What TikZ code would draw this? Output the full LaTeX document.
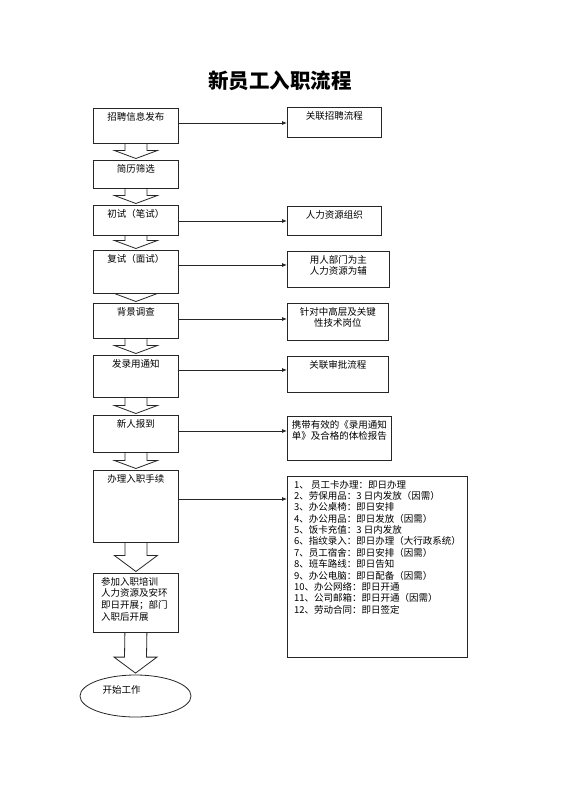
\documentclass[tikz,border=0pt]{standalone}
\usepackage{fontspec}
\setmainfont{Noto Sans CJK SC}
\usetikzlibrary{arrows.meta,calc,shapes.geometric}
\tikzset{
  box/.style={draw=black!85, line width=0.8pt, fill=white, inner sep=0pt, anchor=north west},
  txt/.style={font=\fontsize{9.5}{11.6}\selectfont, inner sep=0pt, anchor=north, align=center},
  ltxt/.style={font=\fontsize{9.5}{11.6}\selectfont, inner sep=0pt, anchor=north west, align=left},
  conn/.style={draw=black!85, line width=0.8pt, -{Latex[length=5pt,width=4pt]}},
  blkline/.style={draw=black!85, line width=0.8pt},
}
\newcommand\blkarr[3]{%
  \draw[blkline] ($(#1.south)+(-11,0)$) -- ($(#2.north)+(-11,-1.5-#3)$)
    -- ($(#2.north)+(-21.5,-1.5-#3)$) -- ($(#2.north)+(0,-1.5)$)
    -- ($(#2.north)+(21.5,-1.5-#3)$) -- ($(#2.north)+(11,-1.5-#3)$)
    -- ($(#1.south)+(11,0)$);}
\begin{document}
\begin{tikzpicture}[x=1pt,y=-1pt]
\useasboundingbox[fill=white] (0,0) rectangle (560,792);
\node[font=\fontsize{20.5}{24}\selectfont\bfseries] (title) at (280,81) {新员工入职流程};
% left column
\node[box, minimum width=85, minimum height=35] (b1) at (93,108) {};
\node[box, minimum width=85, minimum height=28] (b2) at (93,160) {};
\node[box, minimum width=85, minimum height=30] (b3) at (93,205) {};
\node[box, minimum width=85, minimum height=43] (b4) at (93,250) {};
\node[box, minimum width=85, minimum height=35] (b5) at (93,303) {};
\node[box, minimum width=85, minimum height=42] (b6) at (93,355) {};
\node[box, minimum width=85, minimum height=37] (b7) at (93,415) {};
\node[box, minimum width=85, minimum height=72] (b8) at (93,470) {};
\node[box, minimum width=85, minimum height=59] (b9) at (93,573) {};
\node[draw=black!85, line width=0.8pt, ellipse, minimum width=111, minimum height=42, inner sep=0pt] (end) at (135.5,696) {};
\node[txt] (b1t) at ($(b1.north)+(0,4)$) {招聘信息发布};
\node[txt] (b2t) at ($(b2.north)+(0,4)$) {简历筛选};
\node[txt] (b3t) at ($(b3.north)+(0,4)$) {初试（笔试）};
\node[txt] (b4t) at ($(b4.north)+(0,4)$) {复试（面试）};
\node[txt] (b5t) at ($(b5.north)+(0,4)$) {背景调查};
\node[txt] (b6t) at ($(b6.north)+(0,4)$) {发录用通知};
\node[txt] (b7t) at ($(b7.north)+(0,4)$) {新人报到};
\node[txt] (b8t) at ($(b8.north)+(0,4)$) {办理入职手续};
\node[ltxt] (b9t) at ($(b9.north west)+(8,4)$) {参加入职培训\\人力资源及安环\\即日开展；部门\\入职后开展};
\node[font=\fontsize{9.5}{11.6}\selectfont, inner sep=0pt] (endt) at ($(end.center)+(-14,-6)$) {开始工作};
% block arrows
\blkarr{b1}{b2}{8}
\blkarr{b2}{b3}{8}
\blkarr{b3}{b4}{8}
\blkarr{b4}{b5}{8}
\blkarr{b5}{b6}{8}
\blkarr{b6}{b7}{8}
\blkarr{b7}{b8}{8}
\blkarr{b8}{b9}{16}
\blkarr{b9}{end}{16}
% right column
\node[box, minimum width=94, minimum height=30] (r1) at (287,107) {};
\node[box, minimum width=94, minimum height=29] (r3) at (287,206) {};
\node[box, minimum width=102, minimum height=36] (r4) at (287,251) {};
\node[box, minimum width=101, minimum height=37] (r5) at (287,303) {};
\node[box, minimum width=101, minimum height=36] (r6) at (287,356) {};
\node[box, minimum width=104, minimum height=44] (r7) at (287,416) {};
\node[box, minimum width=180, minimum height=181] (r8) at (287,476) {};
\node[txt] (r1t) at ($(r1.north)+(0,4)$) {关联招聘流程};
\node[txt] (r3t) at ($(r3.north)+(0,4)$) {人力资源组织};
\node[txt] (r4t) at ($(r4.north)+(0,4)$) {用人部门为主\\人力资源为辅};
\node[txt] (r5t) at ($(r5.north)+(0,4)$) {针对中高层及关键\\性技术岗位};
\node[txt] (r6t) at ($(r6.north)+(0,4)$) {关联审批流程};
\node[txt] (r7t) at ($(r7.north)+(0,4)$) {携带有效的《录用通知\\单》及合格的体检报告};
\node[ltxt, font=\fontsize{9.5}{11.36}\selectfont] (r8t) at ($(r8.north west)+(7,4)$) {1、 员工卡办理：即日办理\\2、劳保用品：3 日内发放（因需）\\3、办公桌椅：即日安排\\4、办公用品：即日发放（因需）\\5、饭卡充值：3 日内发放\\6、指纹录入：即日办理（大行政系统）\\7、员工宿舍：即日安排（因需）\\8、班车路线：即日告知\\9、办公电脑：即日配备（因需）\\10、办公网络：即日开通\\11、公司邮箱：即日开通（因需）\\12、劳动合同：即日签定};
% connectors
\draw[conn] (b1.east |- 0,123) -- (r1.west |- 0,123);
\draw[conn] (b3.east |- 0,221) -- (r3.west |- 0,221);
\draw[conn] (b4.east |- 0,265) -- (r4.west |- 0,265);
\draw[conn] (b5.east |- 0,319) -- (r5.west |- 0,319);
\draw[conn] (b6.east |- 0,370) -- (r6.west |- 0,370);
\draw[conn] (b7.east |- 0,431) -- (r7.west |- 0,431);
\draw[conn] (b8.east |- 0,499) -- (r8.west |- 0,499);
\end{tikzpicture}
\end{document}
